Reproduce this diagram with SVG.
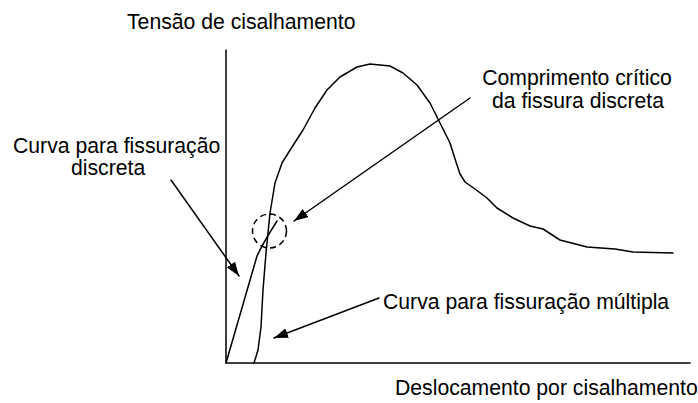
<svg xmlns="http://www.w3.org/2000/svg" width="698" height="403" viewBox="0 0 698 403">
<style>
  text { font-family: "Liberation Sans", Arial, sans-serif; font-size: 21.2px; fill: #000; }
  .ln { fill: none; stroke: #000; stroke-width: 1.5; stroke-linejoin: round; stroke-linecap: round; }
  .dash { fill: none; stroke: #000; stroke-width: 1.5; stroke-dasharray: 6 4; }
</style>
<defs>
  <marker id="ah" viewBox="0 0 14 10" refX="14" refY="5" markerWidth="14" markerHeight="10" markerUnits="userSpaceOnUse" orient="auto">
    <path d="M0,0 L14,5 L0,10 Z" fill="#000"/>
  </marker>
</defs>
<rect width="698" height="403" fill="#fff"/>
<g id="axes">
  <path class="ln" d="M226,50 L226,363 L690,363"/>
  <text x="127" y="29">Tensão de cisalhamento</text>
  <text x="395" y="395">Deslocamento por cisalhamento</text>
</g>
<g id="curva-multipla">
  <polyline class="ln" points="254,363 258,350 261,327 263,290 266,253 270,213 275,183 282,163 292,147 303,130 315,108 327,90 340,77 357,67 370,64 390,66 403,73 417,85 430,103 440,123 450,143 456,162 460,174 465,182 475,189 487,198 497,208 513,218 530,226 543,229 560,240 587,247 615,249 633,252 673,253"/>
</g>
<g id="curva-discreta">
  <path class="ln" d="M226,363 L257,256 Q263,243 277,221"/>
</g>
<g id="circulo-critico">
  <circle class="dash" cx="269.5" cy="231" r="17"/>
</g>
<g id="label-comprimento">
  <text x="577" y="85" text-anchor="middle">Comprimento crítico</text>
  <text x="578" y="108" text-anchor="middle">da fissura discreta</text>
</g>
<g id="label-discreta">
  <text x="13" y="153">Curva para fissuração</text>
  <text x="71" y="175">discreta</text>
</g>
<g id="label-multipla">
  <text x="383" y="309">Curva para fissuração múltipla</text>
</g>
<g id="connectors">
  <line class="ln" x1="470" y1="98" x2="294" y2="221" marker-end="url(#ah)"/>
  <line class="ln" x1="171" y1="180" x2="239" y2="276" marker-end="url(#ah)"/>
  <line class="ln" x1="379" y1="298" x2="274" y2="338" marker-end="url(#ah)"/>
</g>
</svg>
